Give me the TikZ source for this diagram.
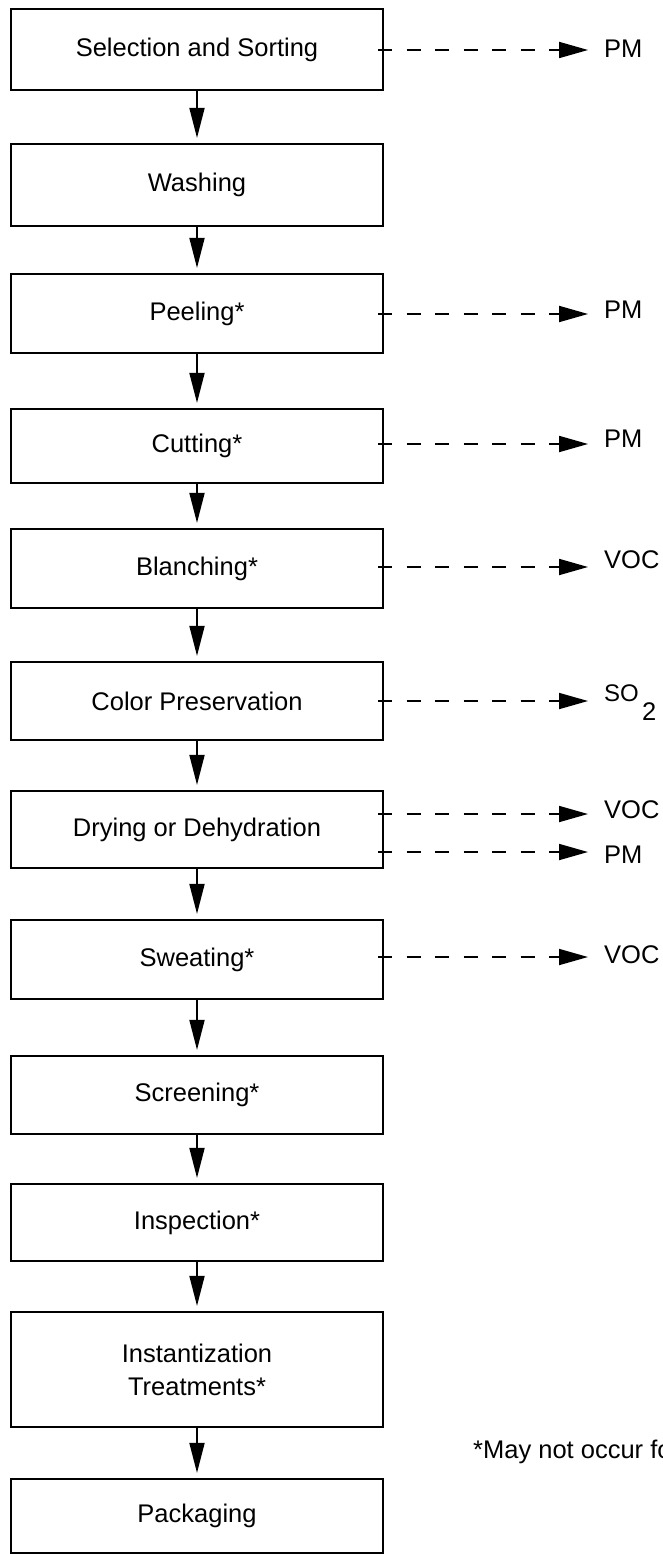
\documentclass[tikz,border=0pt]{standalone}
\usepackage{fontspec}
\setmainfont{Liberation Sans}
\usetikzlibrary{arrows.meta}
\begin{document}
\begin{tikzpicture}[x=1pt,y=-1pt,
  proc/.style={draw, line width=2.2pt, minimum width=372pt, inner sep=0pt,
    font=\fontsize{25.5}{33}\selectfont, align=center},
  flow/.style={line width=1.8pt, -{Triangle[length=30pt,width=15pt]}, shorten >=5pt},
  emis/.style={line width=1.8pt, dash pattern=on 14pt off 14.5pt, shorten <=-6pt,
    -{Triangle[length=29pt,width=16pt]}},
  lbl/.style={inner sep=0pt, anchor=west, font=\fontsize{25.5}{30}\selectfont}]
\useasboundingbox (0,0) rectangle (662,1554);
\fill[white] (0,0) rectangle (662,1554);
\clip (0,0) rectangle (662,1554);

% process boxes
\node[proc, minimum height=81pt]  (sel)  at (197,49.5)   {Selection and Sorting};
\node[proc, minimum height=82pt]  (wash) at (197,185)    {Washing};
\node[proc, minimum height=79pt]  (peel) at (197,313.5)  {Peeling*};
\node[proc, minimum height=74pt]  (cut)  at (197,446)    {Cutting*};
\node[proc, minimum height=79pt]  (blan) at (197,568.5)  {Blanching*};
\node[proc, minimum height=78pt]  (col)  at (197,701)    {Color Preservation};
\node[proc, minimum height=77pt]  (dry)  at (197,829.5)  {Drying or Dehydration};
\node[proc, minimum height=79pt]  (swe)  at (197,959.5)  {Sweating*};
\node[proc, minimum height=78pt]  (scr)  at (197,1095)   {Screening*};
\node[proc, minimum height=77pt]  (ins)  at (197,1222.5) {Inspection*};
\node[proc, minimum height=115pt] (inst) at (197,1369.5) {Instantization\\Treatments*};
\node[proc, minimum height=74pt]  (pack) at (197,1516)   {Packaging};

% main flow
\draw[flow] (sel)  -- (wash);
\draw[flow] (wash) -- (peel);
\draw[flow] (peel) -- (cut);
\draw[flow] (cut)  -- (blan);
\draw[flow] (blan) -- (col);
\draw[flow] (col)  -- (dry);
\draw[flow] (dry)  -- (swe);
\draw[flow] (swe)  -- (scr);
\draw[flow] (scr)  -- (ins);
\draw[flow] (ins)  -- (inst);
\draw[flow] (inst) -- (pack);

% emission tips
\coordinate (t1) at (588,50);
\coordinate (t3) at (588,314);
\coordinate (t4) at (588,444);
\coordinate (t5) at (588,567);
\coordinate (t6) at (588,701);
\coordinate (t7a) at (588,814);
\coordinate (t7b) at (588,852);
\coordinate (t8) at (588,957);

% emission labels
\node[lbl] (pm1)  at (604,48.5) {PM};
\node[lbl] (pm3)  at (604,310)  {PM};
\node[lbl] (pm4)  at (604,439)  {PM};
\node[lbl] (voc5) at (604,560)  {VOC};
\node[lbl, font=\fontsize{24}{28}\selectfont] (so6) at (604,693) {SO};
\node[lbl] (two6) at (642,712)  {2};
\node[lbl] (voc7) at (604,810)  {VOC};
\node[lbl] (pm7)  at (604,855)  {PM};
\node[lbl] (voc8) at (604,955)  {VOC};

% emission arrows
\draw[emis] (sel.east  |- t1)  -- (t1);
\draw[emis] (peel.east |- t3)  -- (t3);
\draw[emis] (cut.east  |- t4)  -- (t4);
\draw[emis] (blan.east |- t5)  -- (t5);
\draw[emis] (col.east  |- t6)  -- (t6);
\draw[emis] (dry.east  |- t7a) -- (t7a);
\draw[emis] (dry.east  |- t7b) -- (t7b);
\draw[emis] (swe.east  |- t8)  -- (t8);

% footnote (cut off at the right edge, as in the reference)
\node[lbl] (note) at (473,1452) {*May not occur fo};
\end{tikzpicture}
\end{document}
